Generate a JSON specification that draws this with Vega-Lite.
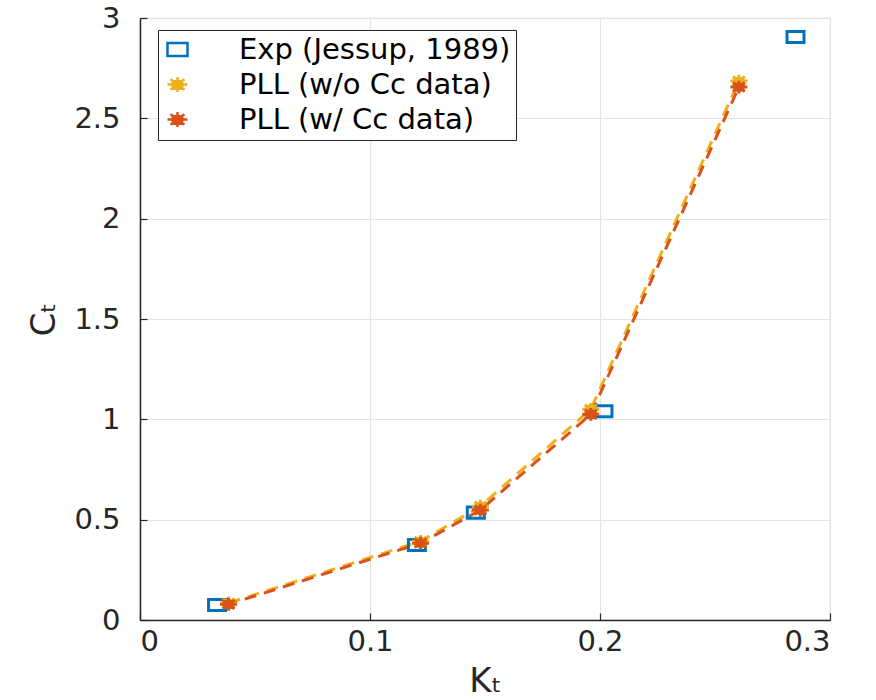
{
  "$schema": "https://vega.github.io/schema/vega-lite/v6.json",
  "autosize": "none",
  "width": 690,
  "height": 602,
  "padding": {"left": 140, "top": 18, "right": 46, "bottom": 80},
  "background": "white",
  "config": {
    "font": "DejaVu Sans",
    "view": {"stroke": "#d9d9d9", "strokeWidth": 1.2},
    "axis": {
      "labelFont": "DejaVu Sans",
      "titleFont": "DejaVu Sans",
      "labelFontSize": 29,
      "titleFontSize": 34,
      "titleFontWeight": "normal",
      "labelColor": "#262626",
      "titleColor": "#262626",
      "domainColor": "#262626",
      "domainWidth": 1.5,
      "tickColor": "#262626",
      "tickSize": -7,
      "tickWidth": 1.2,
      "gridColor": "#e3e3e3",
      "gridWidth": 1.2
    },
    "legend": {
      "title": null,
      "orient": "none",
      "legendX": 18,
      "legendY": 12,
      "strokeColor": "#262626",
      "fillColor": "white",
      "padding": 5,
      "rowPadding": 5,
      "symbolSize": 400,
      "symbolStrokeWidth": 2.5,
      "labelFont": "DejaVu Sans",
      "labelFontSize": 29,
      "labelColor": "#000000",
      "labelOffset": 47,
      "labelLimit": 500
    }
  },
  "data": {
    "values": [
      {"series": "Exp (Jessup, 1989)", "KT": 0.0335, "CT": 0.075},
      {"series": "Exp (Jessup, 1989)", "KT": 0.1204, "CT": 0.374},
      {"series": "Exp (Jessup, 1989)", "KT": 0.146, "CT": 0.535},
      {"series": "Exp (Jessup, 1989)", "KT": 0.2015, "CT": 1.04},
      {"series": "Exp (Jessup, 1989)", "KT": 0.285, "CT": 2.905},
      {"series": "PLL (w/o Cc data)", "KT": 0.0385, "CT": 0.085},
      {"series": "PLL (w/o Cc data)", "KT": 0.122, "CT": 0.392},
      {"series": "PLL (w/o Cc data)", "KT": 0.148, "CT": 0.567},
      {"series": "PLL (w/o Cc data)", "KT": 0.196, "CT": 1.05},
      {"series": "PLL (w/o Cc data)", "KT": 0.2604, "CT": 2.686},
      {"series": "PLL (w/ Cc data)", "KT": 0.0385, "CT": 0.078},
      {"series": "PLL (w/ Cc data)", "KT": 0.122, "CT": 0.383},
      {"series": "PLL (w/ Cc data)", "KT": 0.148, "CT": 0.548},
      {"series": "PLL (w/ Cc data)", "KT": 0.196, "CT": 1.025},
      {"series": "PLL (w/ Cc data)", "KT": 0.2604, "CT": 2.656}
    ]
  },
  "encoding": {
    "x": {
      "field": "KT", "type": "quantitative",
      "scale": {"domain": [0, 0.3], "nice": false},
      "axis": {"title": "Kₜ", "values": [0, 0.1, 0.2, 0.3], "format": "~g", "labelPadding": 14, "titlePadding": 8}
    },
    "y": {
      "field": "CT", "type": "quantitative",
      "scale": {"domain": [0, 3], "nice": false},
      "axis": {"title": "Cₜ", "values": [0, 0.5, 1, 1.5, 2, 2.5, 3], "format": "~g", "labelPadding": 27, "titlePadding": 12}
    }
  },
  "layer": [
    {
      "transform": [{"filter": "datum.series === 'PLL (w/o Cc data)'"}],
      "mark": {"type": "line", "strokeDash": [12, 8], "strokeWidth": 3, "stroke": "#EDB120"},
      "encoding": {}
    },
    {
      "transform": [{"filter": "datum.series === 'PLL (w/ Cc data)'"}],
      "mark": {"type": "line", "strokeDash": [12, 8], "strokeDashOffset": 3, "strokeWidth": 3, "stroke": "#D95319"},
      "encoding": {}
    },
    {
      "mark": {"type": "point", "size": 289, "strokeWidth": 3, "opacity": 1, "filled": false},
      "encoding": {
        "stroke": {
          "field": "series", "type": "nominal",
          "scale": {
            "domain": ["Exp (Jessup, 1989)", "PLL (w/o Cc data)", "PLL (w/ Cc data)"],
            "range": ["#0072BD", "#EDB120", "#D95319"]
          },
          "legend": {
            "encode": {
              "symbols": {
                "update": {
                  "shape": {"signal": "datum.value === 'Exp (Jessup, 1989)' ? 'M1.95,-0.55H3.65V0.55H1.95Z' : 'M-1,0H0M5,0H6.2M1.7,0H3.3M2.5,-0.6V0.6M1.93,-0.43L3.07,0.43M1.93,0.43L3.07,-0.43M2.95,0L2.82,0.25L2.5,0.35L2.18,0.25L2.05,0L2.18,-0.25L2.5,-0.35L2.82,-0.25Z'"}
                }
              }
            }
          }
        },
        "fill": {
          "field": "series", "type": "nominal",
          "scale": {
            "domain": ["Exp (Jessup, 1989)", "PLL (w/o Cc data)", "PLL (w/ Cc data)"],
            "range": ["transparent", "#EDB120", "#D95319"]
          },
          "legend": {
            "encode": {
              "symbols": {
                "update": {
                  "shape": {"signal": "datum.value === 'Exp (Jessup, 1989)' ? 'M1.95,-0.55H3.65V0.55H1.95Z' : 'M-1,0H0M5,0H6.2M1.7,0H3.3M2.5,-0.6V0.6M1.93,-0.43L3.07,0.43M1.93,0.43L3.07,-0.43M2.95,0L2.82,0.25L2.5,0.35L2.18,0.25L2.05,0L2.18,-0.25L2.5,-0.35L2.82,-0.25Z'"}
                }
              }
            }
          }
        },
        "shape": {
          "field": "series", "type": "nominal",
          "scale": {
            "domain": ["Exp (Jessup, 1989)", "PLL (w/o Cc data)", "PLL (w/ Cc data)"],
            "range": [
              "M-1,-0.65H1V0.65H-1Z",
              "M-1,0H1M0,-0.75V0.75M-0.7,-0.53L0.7,0.53M-0.7,0.53L0.7,-0.53M0.55,0L0.39,0.32L0,0.45L-0.39,0.32L-0.55,0L-0.39,-0.32L0,-0.45L0.39,-0.32Z",
              "M-1,0H1M0,-0.75V0.75M-0.7,-0.53L0.7,0.53M-0.7,0.53L0.7,-0.53M0.55,0L0.39,0.32L0,0.45L-0.39,0.32L-0.55,0L-0.39,-0.32L0,-0.45L0.39,-0.32Z"
            ]
          },
          "legend": {
            "encode": {
              "symbols": {
                "update": {
                  "shape": {"signal": "datum.value === 'Exp (Jessup, 1989)' ? 'M1.95,-0.55H3.65V0.55H1.95Z' : 'M-1,0H0M5,0H6.2M1.7,0H3.3M2.5,-0.6V0.6M1.93,-0.43L3.07,0.43M1.93,0.43L3.07,-0.43M2.95,0L2.82,0.25L2.5,0.35L2.18,0.25L2.05,0L2.18,-0.25L2.5,-0.35L2.82,-0.25Z'"}
                }
              }
            }
          }
        }
      }
    }
  ]
}
